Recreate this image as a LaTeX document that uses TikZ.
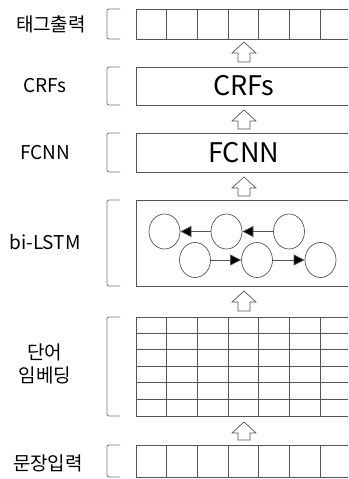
\documentclass[tikz,border=0pt]{standalone}
\usepackage{fontspec}
\setmainfont{Noto Sans CJK KR}
\usetikzlibrary{arrows.meta,calc,shapes.geometric}
\definecolor{ln}{RGB}{85,85,85}
\definecolor{bk}{RGB}{120,120,120}
\newcommand\mybrk[2]{\draw[brk] (120,#1) -- (107,#1) -- (107,#2) -- (120,#2);}
\newcommand\myuparr[2]{\draw[harr] (244,#1) -- (256,#1+11) -- (250,#1+11) -- (250,#2) -- (238,#2) -- (238,#1+11) -- (232,#1+11) -- cycle;}
\begin{document}
\begin{tikzpicture}[x=1pt,y=-1pt,
  box/.style={draw=ln,line width=0.8pt,inner sep=0pt,minimum width=215.6pt},
  lbl/.style={font=\fontsize{19}{23}\selectfont,inner sep=0pt,align=center},
  big/.style={font=\fontsize{27}{32}\selectfont},
  grid/.style={draw=ln,line width=0.8pt},
  brk/.style={draw=bk,line width=0.8pt,rounded corners=2pt},
  harr/.style={draw=ln,line width=0.7pt,fill=white},
  cellnode/.style={ellipse,draw=ln,line width=0.7pt,minimum width=31pt,minimum height=35pt,inner sep=0pt},
  larr/.style={draw=ln,line width=0.7pt,-{Triangle[length=11pt,width=11pt,fill=black]}}
]
\clip (0,0) rectangle (348,479);
\fill[white] (0,0) rectangle (348,479);

% boxes
\node[box,minimum height=30pt] (tag) at (243.8,24) {};
\node[box,minimum height=38pt,big] (crf) at (243.8,86) {CRFs};
\node[box,minimum height=39pt,big] (fcnn) at (243.8,152.5) {FCNN};
\node[box,minimum height=86pt] (lstm) at (243.8,243) {};
\node[box,minimum height=99pt] (emb) at (243.8,366.5) {};
\node[box,minimum height=32pt] (inp) at (243.8,461) {};

% cell dividers
\foreach \k in {1,...,6}{
  \draw[grid] ($(tag.north west)+(\k*30.8,0)$) -- ($(tag.south west)+(\k*30.8,0)$);
  \draw[grid] ($(emb.north west)+(\k*30.8,0)$) -- ($(emb.south west)+(\k*30.8,0)$);
  \draw[grid] ($(inp.north west)+(\k*30.8,0)$) -- ($(inp.south west)+(\k*30.8,0)$);
}
\foreach \k in {1,...,5}{
  \draw[grid] ($(emb.north west)+(0,\k*16.5)$) -- ($(emb.north east)+(0,\k*16.5)$);
}

% brackets
\mybrk{9}{39}
\mybrk{67}{105}
\mybrk{133}{172}
\mybrk{200}{286}
\mybrk{317}{416}
\mybrk{445}{477}

% hollow arrows
\myuparr{42}{62}
\myuparr{110}{129}
\myuparr{177}{196}
\myuparr{291}{311}
\myuparr{422}{440}

% LSTM cells
\node[cellnode] (t1) at (164.5,231.5) {};
\node[cellnode] (t2) at (226.5,231.5) {};
\node[cellnode] (t3) at (289,231.5) {};
\node[cellnode] (b1) at (195,260) {};
\node[cellnode] (b2) at (257,260) {};
\node[cellnode] (b3) at (320.5,260) {};
\draw[larr] (t2) -- (t1);
\draw[larr] (t3) -- (t2);
\draw[larr] (b1) -- (b2);
\draw[larr] (b2) -- (b3);

% labels
\node[lbl] (l1) at (51,24) {태그출력};
\node[lbl] (l2) at (45,86) {CRFs};
\node[lbl] (l3) at (45.5,153) {FCNN};
\node[lbl] (l4) at (45,242) {bi-LSTM};
\node[lbl] (l5) at (45,363.5) {단어\\임베딩};
\node[lbl] (l6) at (48,463) {문장입력};
\end{tikzpicture}
\end{document}
